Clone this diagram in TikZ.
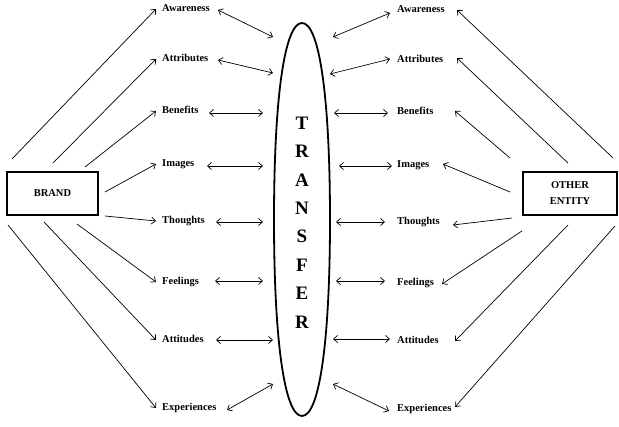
\documentclass[tikz,border=0pt]{standalone}
\usepackage{fontspec}
\setmainfont{Liberation Serif}
\usetikzlibrary{arrows.meta,calc}
\begin{document}
\begin{tikzpicture}[x=1pt,y=-1pt,
  lab/.style={anchor=west,inner sep=0,font=\fontsize{10.5}{12}\selectfont\bfseries,text height=7pt,text depth=2pt},
  box/.style={draw,line width=2pt,inner sep=0,font=\fontsize{10.5}{16}\selectfont\bfseries,align=center},
  tip/.tip={Straight Barb[length=4pt,width=7pt]},
  arr/.style={-tip,line width=0.7pt},
  darr/.style={tip-tip,line width=0.7pt},
  letter/.style={font=\fontsize{19}{22}\selectfont\bfseries,inner sep=0}]
\useasboundingbox (0,0) rectangle (619,427);

\node[box,minimum width=91pt,minimum height=43pt] (brand) at (52.5,193.5) {BRAND};
\node[box,minimum width=94pt,minimum height=43pt] (other) at (570,193.5) {OTHER\\ENTITY};

% TRANSFER oval
\coordinate (tr) at (302,220);
\draw[line width=1.8pt] (302,23) .. controls (319.4,23) and (330,97.7) .. (330,219.5)
  .. controls (330,341.3) and (319.4,416) .. (302,416)
  .. controls (284.6,416) and (274,341.3) .. (274,219.5)
  .. controls (274,97.7) and (284.6,23) .. (302,23) -- cycle;
\foreach \l [count=\i] in {T,R,A,N,S,F,E,R}
  \node[letter] (t\i) at (302,{123+28.4*(\i-1)}) {\l};

\foreach \n/\t/\y in {Aw/Awareness/9, At/Attributes/59, Be/Benefits/111, Im/Images/164, Th/Thoughts/221, Fe/Feelings/282, Ad/Attitudes/340, Ex/Experiences/408}
{
  \node[lab] (L\n) at (162,\y) {\t};
  \node[lab] (R\n) at (397,\y+1) {\t};
}

% brand -> left labels
\foreach \n/\dx/\dy in {Aw/-40.5/-34.5, At/0.5/-30.5, Be/32.5/-26.5, Im/52.5/-1.5, Th/52.5/22.5, Fe/24.5/30.5, Ad/-8.5/28.5, Ex/-44.5/31.5}
  \draw[arr] ($(brand.center)+(\dx,\dy)$) -- ($(L\n.west)+(-6,0)$);

% other -> right labels
\foreach \n/\dx/\dy/\ex/\ey in {Aw/43/-35.5/60/0, At/-2/-30.5/60/-2, Be/-60/-35.5/58/-1, Im/-60/-1.5/46/-1, Th/-58/24.5/56/3, Fe/-48/37.5/45/1, Ad/-2/31.5/58/0, Ex/45/32.5/58/-2}
  \draw[arr] ($(other.center)+(\dx,\dy)$) -- ($(R\n.west)+(\ex,\ey)$);

% left labels <-> transfer
\foreach \n/\a/\b/\c/\d in {Aw/56/1/-29/-183, At/56/1/-29/-147, Be/47/2/-39/-107, Im/45/2/-39/-54, Th/54/1/-39/2, Fe/53/-1/-39/61, Ad/54/0/-29/120, Ex/65/2/-29/164}
  \draw[darr] ($(L\n.west)+(\a,\b)$) -- ($(tr.center)+(\c,\d)$);

% transfer <-> right labels
\foreach \n/\c/\d/\a/\b in {Aw/31/-183/-7/3, At/28/-146/-7/-1, Be/32/-107/-9/1, Im/37/-54/-5/1, Th/34/2/-12/0, Fe/34/61/-12/-2, Ad/31/119/-7/-2, Ex/31/164/-8/2}
  \draw[darr] ($(tr.center)+(\c,\d)$) -- ($(R\n.west)+(\a,\b)$);
\end{tikzpicture}
\end{document}
